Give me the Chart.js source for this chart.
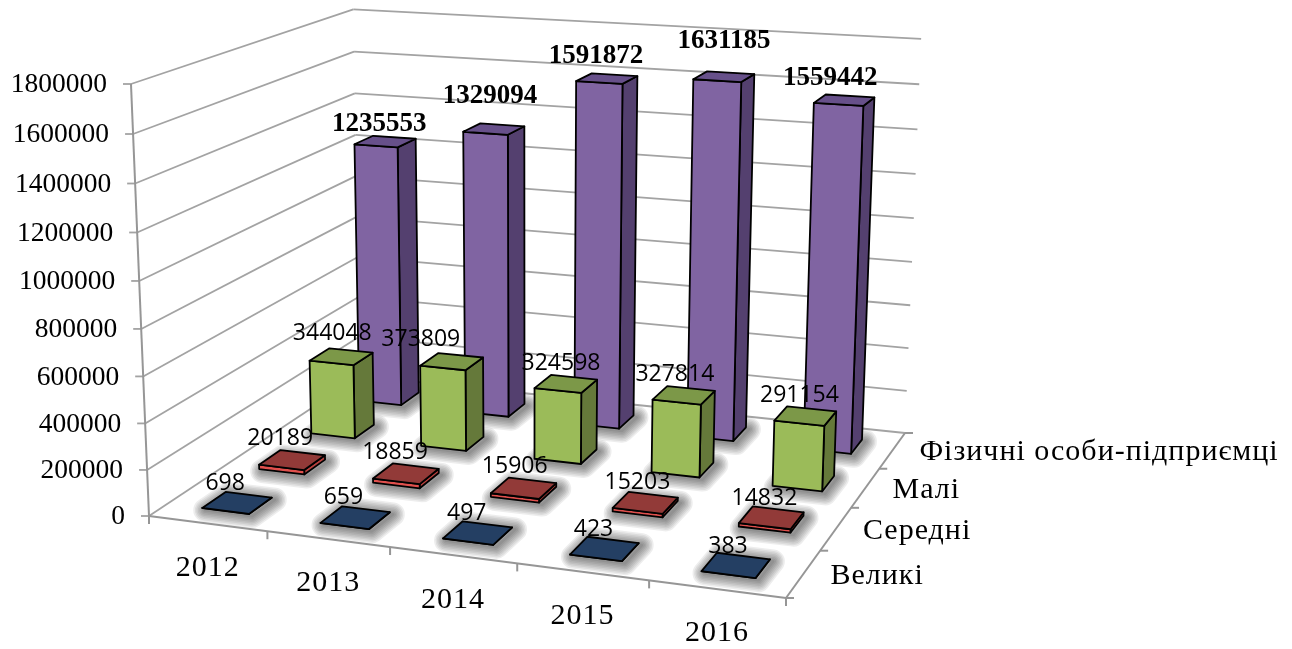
<!DOCTYPE html>
<html>
<head>
<meta charset="utf-8">
<script src="https://cdn.jsdelivr.net/npm/chart.js@4"></script>
<style>
  html, body { margin: 0; padding: 0; background: #fff; }
  #wrap { width: 1292px; height: 649px; }
</style>
</head>
<body>
<div id="wrap"><canvas id="chart"></canvas></div>
<script>
const years = ["2012", "2013", "2014", "2015", "2016"];
const firmTypes = ["Великі", "Середні", "Малі", "Фізичні особи-підприємці"];

const large = [698, 659, 497, 423, 383];
const medium = [20189, 18859, 15906, 15203, 14832];
const small = [344048, 373809, 324598, 327814, 291154];
const individuals = [1235553, 1329094, 1591872, 1631185, 1559442];

const yMax = 1800000;
const yStep = 200000;

// where the floor corners land on the page (front-left, front-right, back-right, back-left)
const floorQuad = [[149, 516], [786, 598], [905, 433], [360, 376]];
// vertical edges meet here, far under the page
const vanish = [529, 9627];
const axisTopY = 84;

// colours per series: front, side, top
const faces = [
  ["#1f3a5f", "#16294a", "#243f63"],
  ["#e0504d", "#b8403d", "#923a38"],
  ["#9bbb59", "#65793a", "#7c9848"],
  ["#8064a2", "#54406f", "#67508a"],
];

// value labels sit by hand in the original, so nudge them from the bar top
const labelShift = [
  [[-12, -19], [-12, -20], [-11, -19], [-11, -19], [-8, -19]],
  [[-12, -21], [-11, -21], [-9, -22], [-8, -20], [-7, -19]],
  [[-9, -23], [-31, -22], [-5, -20], [-9, -21], [-6, -21]],
  [[-6, -17], [-4, -33], [-11, -23], [0, -36], [-14, -22]],
];

// unit square -> floor quad, height goes towards the vanishing point
function makeProjection() {
  const [[x0, y0], [x1, y1], [x2, y2], [x3, y3]] = floorQuad;
  const dx1 = x1 - x2, dx2 = x3 - x2, sx = x0 - x1 + x2 - x3;
  const dy1 = y1 - y2, dy2 = y3 - y2, sy = y0 - y1 + y2 - y3;
  const den = dx1 * dy2 - dx2 * dy1;
  const g = (sx * dy2 - dx2 * sy) / den;
  const h = (dx1 * sy - sx * dy1) / den;
  const a = x1 - x0 + g * x1, b = x3 - x0 + h * x3;
  const d = y1 - y0 + g * y1, e = y3 - y0 + h * y3;
  const r = (axisTopY - y0) / (vanish[1] - axisTopY);
  return (u, v, w) => {
    const k = g * u + h * v + 1 + r * w;
    return [
      (a * u + b * v + x0 + r * w * vanish[0]) / k,
      (d * u + e * v + y0 + r * w * vanish[1]) / k,
    ];
  };
}
const project = makeProjection();

function poly(ctx, pts, fill, stroke, lw) {
  ctx.beginPath();
  pts.forEach((pt, i) => (i ? ctx.lineTo(pt[0], pt[1]) : ctx.moveTo(pt[0], pt[1])));
  ctx.closePath();
  if (fill) { ctx.fillStyle = fill; ctx.fill(); }
  if (stroke) { ctx.strokeStyle = stroke; ctx.lineWidth = lw; ctx.lineJoin = "round"; ctx.stroke(); }
}

function line(ctx, a, b) {
  ctx.beginPath();
  ctx.moveTo(a[0], a[1]);
  ctx.lineTo(b[0], b[1]);
  ctx.stroke();
}

const box3d = {
  id: "box3d",
  beforeDatasetsDraw(chart) {
    const ctx = chart.ctx;
    const area = chart.chartArea;
    const xs = chart.scales.x, ys = chart.scales.y, zs = chart.scales.z;
    const uOf = (i) => (xs.getPixelForValue(i) - area.left) / area.width;
    const vOf = (i) => (zs.getPixelForValue(i) - area.left) / area.width;
    const wOf = (val) => (area.bottom - ys.getPixelForValue(val)) / area.height;
    const cellU = 1 / years.length, cellV = 1 / firmTypes.length;
    const halfU = cellU * 0.2, halfV = cellV * 0.2;

    ctx.save();
    // walls
    ctx.strokeStyle = "#a3a3a3";
    ctx.lineWidth = 1.8;
    ys.ticks.forEach((t) => {
      const w = wOf(t.value);
      const fl = project(0, 0, w), bl = project(0, 1, w), br = project(1, 1, w);
      line(ctx, fl, bl);
      line(ctx, bl, br);
      line(ctx, [fl[0] - 8, fl[1]], fl);
    });
    // axis edges
    ctx.strokeStyle = "#969696";
    ctx.lineWidth = 2;
    line(ctx, project(0, 0, 0), project(0, 0, 1));
    line(ctx, project(0, 0, 0), project(1, 0, 0));
    line(ctx, project(1, 0, 0), project(1, 1, 0));
    for (let i = 0; i <= years.length; i++) {
      const pt = project(i * cellU, 0, 0);
      line(ctx, pt, [pt[0], pt[1] + 8]);
    }
    for (let i = 0; i <= firmTypes.length; i++) {
      const pt = project(1, i * cellV, 0);
      line(ctx, pt, [pt[0] + 8, pt[1]]);
    }

    // bars, back row first
    for (let s = chart.data.datasets.length - 1; s >= 0; s--) {
      const values = chart.data.datasets[s].data;
      const v = vOf(s);
      const col = faces[s];
      values.forEach((val, i) => {
        const u = uOf(i);
        const w = wOf(val);
        const u0 = u - halfU, u1 = u + halfU, v0 = v - halfV, v1 = v + halfV;
        const foot = [project(u0, v0, 0), project(u1, v0, 0), project(u1, v1, 0), project(u0, v1, 0)];
        // soft floor shadow, stacked strokes since canvas shadows came out too faint
        ctx.save();
        ctx.translate(3, 2);
        for (let lw = 24; lw > 0; lw -= 3) {
          poly(ctx, foot, null, "rgba(0,0,0,0.07)", lw);
        }
        ctx.restore();
        const front = [project(u0, v0, 0), project(u1, v0, 0), project(u1, v0, w), project(u0, v0, w)];
        const side = [project(u1, v0, 0), project(u1, v1, 0), project(u1, v1, w), project(u1, v0, w)];
        const top = [project(u0, v0, w), project(u1, v0, w), project(u1, v1, w), project(u0, v1, w)];
        poly(ctx, side, col[1], "#000", 1.8);
        poly(ctx, front, col[0], "#000", 1.8);
        poly(ctx, top, col[2], "#000", 1.8);
      });
    }

    // text
    ctx.fillStyle = "#000";
    ctx.textBaseline = "middle";

    ctx.font = '27.5px "Liberation Serif"';
    ctx.textAlign = "right";
    ys.ticks.forEach((t) => {
      const pt = project(0, 0, wOf(t.value));
      ctx.fillText(String(t.value), pt[0] - 24, pt[1] + 1);
    });

    ctx.font = '30px "Liberation Serif"';
    ctx.letterSpacing = "1px";
    ctx.textAlign = "center";
    xs.ticks.forEach((t, i) => {
      const pt = project(uOf(i), 0, 0);
      ctx.fillText(xs.getLabelForValue(t.value), pt[0], pt[1] + 44.5);
    });

    ctx.textAlign = "left";
    zs.ticks.forEach((t, i) => {
      const pt = project(1, vOf(i), 0);
      ctx.fillText(zs.getLabelForValue(t.value), pt[0] + 27, pt[1] + 2);
    });
    ctx.letterSpacing = "0px";

    ctx.textAlign = "center";
    chart.data.datasets.forEach((ds, s) => {
      ctx.font = s === 3 ? 'bold 27px "Liberation Serif"' : '23px "Open Sans"';
      ds.data.forEach((val, i) => {
        const pt = project(uOf(i), vOf(s), wOf(val));
        const sh = labelShift[s][i];
        ctx.fillText(String(val), pt[0] + sh[0], pt[1] + sh[1]);
      });
    });
    ctx.restore();
    return false;
  },
};

new Chart(document.getElementById("chart"), {
  type: "bar",
  data: {
    labels: years,
    datasets: [
      { label: firmTypes[0], data: large, backgroundColor: faces[0][0] },
      { label: firmTypes[1], data: medium, backgroundColor: faces[1][0] },
      { label: firmTypes[2], data: small, backgroundColor: faces[2][0] },
      { label: firmTypes[3], data: individuals, backgroundColor: faces[3][0] },
    ],
  },
  plugins: [box3d],
  options: {
    responsive: true,
    maintainAspectRatio: false,
    animation: false,
    layout: {
      padding: {
        left: floorQuad[0][0],
        right: 1292 - floorQuad[1][0],
        top: axisTopY,
        bottom: 649 - floorQuad[0][1],
      },
    },
    scales: {
      x: { type: "category", display: false, offset: true },
      z: { type: "category", axis: "x", labels: firmTypes, display: false, offset: true },
      y: { display: false, min: 0, max: yMax, ticks: { stepSize: yStep } },
    },
    plugins: {
      legend: { display: false },
      tooltip: { enabled: false },
    },
  },
});
</script>
</body>
</html>
